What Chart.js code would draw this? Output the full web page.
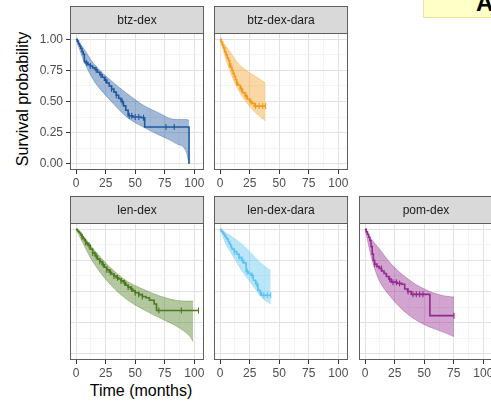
<!DOCTYPE html>
<html>
<head>
<meta charset="utf-8">
<script src="https://cdn.jsdelivr.net/npm/chart.js@4.4.0/dist/chart.umd.min.js"></script>
<style>
  body { margin: 0; width: 491px; height: 402px; overflow: hidden; background: #fff; position: relative;
         font-family: "Liberation Sans", Arial, sans-serif; }
  .panel { position: absolute; }
  #ytitle { position: absolute; left: -77px; top: 89px; width: 200px; height: 20px; line-height: 20px;
            text-align: center; font-size: 16px; color: #000; transform: rotate(-90deg); }
  #xtitle { position: absolute; left: 41px; top: 381px; width: 200px; height: 20px; line-height: 20px;
            text-align: center; font-size: 16px; color: #000; }
  #tag { position: absolute; left: 423px; top: -1px; width: 80px; height: 17px; background: #ffffc8;
         border: 1px solid #eee2a0; overflow: hidden; }
  #tag span { position: absolute; left: 52px; top: -11px; font-size: 24px; font-weight: bold; color: #000; }
</style>
</head>
<body>
<div id="tag"><span>A</span></div>
<div id="ytitle">Survival probability</div>
<div id="xtitle">Time (months)</div>

<script>
// tick positions (minor ones carry no label)
const xTicks = [0, 12.5, 25, 37.5, 50, 62.5, 75, 87.5, 100];
const yTicks = [0, 0.125, 0.25, 0.375, 0.5, 0.625, 0.75, 0.875, 1];

// btz-dex
const btzDexTime = [0, 1, 2, 3, 4, 5, 6, 7, 8, 10, 12, 14, 16, 18, 20, 22, 24, 26, 28, 30, 32, 34, 36, 38, 40, 42, 44, 48, 55, 58, 95.5];
const btzDexSurv = [1, 0.985, 0.965, 0.946, 0.925, 0.9, 0.878, 0.82, 0.81, 0.795, 0.785, 0.77, 0.755, 0.735, 0.715, 0.695, 0.672, 0.648, 0.625, 0.6, 0.575, 0.55, 0.525, 0.5, 0.465, 0.43, 0.385, 0.375, 0.37, 0.295, 0];
const btzDexCensor = [9, 12, 17, 21, 25, 30, 34, 39, 45, 47, 50, 53, 57, 76, 83];
const btzDexCiTime = [0, 6.1, 14.5, 28.7, 42.8, 56.8, 70.9, 79.4, 85, 93, 95.5];
const btzDexUpper = [1, 0.93, 0.81, 0.675, 0.566, 0.47, 0.404, 0.363, 0.355, 0.355, 0.35];
const btzDexLower = [1, 0.837, 0.675, 0.512, 0.376, 0.295, 0.228, 0.19, 0.16, 0.1, 0];

// btz-dex-dara
const btzDaraTime = [0, 1, 2, 3, 4, 5, 6, 7, 8, 9, 10, 11, 12, 13, 14, 15, 17, 19, 21, 23, 25, 27, 29, 38.5];
const btzDaraSurv = [1, 0.98, 0.95, 0.93, 0.9, 0.875, 0.85, 0.83, 0.8, 0.775, 0.75, 0.725, 0.7, 0.675, 0.65, 0.63, 0.6, 0.57, 0.545, 0.52, 0.5, 0.485, 0.463, 0.463];
const btzDaraCensor = [8, 14, 18, 22, 26, 30, 33, 36, 38.5];
const btzDaraCiTime = [0, 3, 7, 14, 21, 30, 38.5];
const btzDaraUpper = [1, 0.965, 0.92, 0.82, 0.756, 0.7, 0.648];
const btzDaraLower = [1, 0.9, 0.78, 0.62, 0.51, 0.41, 0.344];

// len-dex
const lenDexTime = [0, 1, 2, 3, 4, 5, 6, 7, 8, 9, 10, 12, 14, 16, 18, 20, 22, 24, 26, 28, 30, 32, 34, 36, 38, 40, 42, 44, 46, 48, 50, 53, 56, 59, 62, 66, 68, 103.5];
const lenDexSurv = [1, 0.99, 0.98, 0.97, 0.955, 0.94, 0.925, 0.91, 0.895, 0.884, 0.87, 0.84, 0.81, 0.785, 0.76, 0.74, 0.715, 0.695, 0.675, 0.655, 0.64, 0.625, 0.61, 0.6, 0.585, 0.57, 0.55, 0.535, 0.52, 0.505, 0.49, 0.475, 0.46, 0.45, 0.43, 0.4, 0.347, 0.347];
const lenDexCensor = [5, 8, 11, 14, 17, 20, 23, 26, 29, 32, 35, 38, 41, 44, 47, 50, 53, 56, 70, 89, 103.5];
const lenDexCiTime = [0, 7.5, 14.5, 28.7, 42.8, 56.8, 70.9, 85, 96.3, 99];
const lenDexUpper = [1, 0.93, 0.843, 0.694, 0.585, 0.518, 0.463, 0.428, 0.423, 0.423];
const lenDexLower = [1, 0.856, 0.734, 0.558, 0.437, 0.355, 0.287, 0.22, 0.138, 0.098];

// len-dex-dara
const lenDaraTime = [0, 1, 2, 3, 4, 5, 6, 7, 8, 9, 10, 12, 14, 16, 18, 20, 22, 24, 26, 28, 30, 32, 34, 35, 42.8];
const lenDaraSurv = [1, 0.985, 0.975, 0.96, 0.945, 0.93, 0.92, 0.9, 0.88, 0.86, 0.84, 0.82, 0.8, 0.775, 0.75, 0.73, 0.66, 0.645, 0.63, 0.59, 0.56, 0.51, 0.49, 0.47, 0.47];
const lenDaraCensor = [12, 16, 19, 23, 27, 31, 34, 37, 40, 42.8];
const lenDaraCiTime = [0, 5, 10, 18.5, 27, 35.4, 42.8];
const lenDaraUpper = [1, 0.97, 0.94, 0.88, 0.8, 0.72, 0.667];
const lenDaraLower = [1, 0.88, 0.8, 0.667, 0.558, 0.45, 0.4];

// pom-dex
const pomDexTime = [0, 1, 2, 3, 4, 5, 6, 7, 8, 10, 12, 14, 16, 18, 20, 22, 27, 31, 33.5, 36, 39, 54.8, 75.2];
const pomDexSurv = [1, 0.98, 0.96, 0.935, 0.91, 0.86, 0.8, 0.75, 0.72, 0.7, 0.685, 0.665, 0.645, 0.62, 0.6, 0.575, 0.565, 0.558, 0.52, 0.5, 0.477, 0.306, 0.306];
const pomDexCensor = [8, 13.7, 20.8, 23.6, 26.4, 29.2, 36.3, 40.5, 43.3, 46.1, 48.9, 75.2];
const pomDexCiTime = [0, 5.3, 10.9, 22.2, 36.3, 50.4, 64.4, 75.2];
const pomDexUpper = [1, 0.92, 0.856, 0.72, 0.6, 0.518, 0.47, 0.455];
const pomDexLower = [1, 0.775, 0.61, 0.45, 0.315, 0.233, 0.18, 0.138];

const panels = [
  { label: 'btz-dex', color: [31, 87, 160], alpha: 0.42, col: 0, row: 0, yLabels: true,
    time: btzDexTime, surv: btzDexSurv, censor: btzDexCensor, ciTime: btzDexCiTime, upper: btzDexUpper, lower: btzDexLower },
  { label: 'btz-dex-dara', color: [243, 154, 28], alpha: 0.4, col: 1, row: 0, yLabels: false,
    time: btzDaraTime, surv: btzDaraSurv, censor: btzDaraCensor, ciTime: btzDaraCiTime, upper: btzDaraUpper, lower: btzDaraLower },
  { label: 'len-dex', color: [75, 122, 28], alpha: 0.42, col: 0, row: 1, yLabels: false,
    time: lenDexTime, surv: lenDexSurv, censor: lenDexCensor, ciTime: lenDexCiTime, upper: lenDexUpper, lower: lenDexLower },
  { label: 'len-dex-dara', color: [92, 196, 240], alpha: 0.42, col: 1, row: 1, yLabels: false,
    time: lenDaraTime, surv: lenDaraSurv, censor: lenDaraCensor, ciTime: lenDaraCiTime, upper: lenDaraUpper, lower: lenDaraLower },
  { label: 'pom-dex', color: [147, 41, 143], alpha: 0.42, col: 2, row: 1, yLabels: false,
    time: pomDexTime, surv: pomDexSurv, censor: pomDexCensor, ciTime: pomDexCiTime, upper: pomDexUpper, lower: pomDexLower }
];

const FONT = '"Liberation Sans", Arial, sans-serif';
const colLeft = [70, 214, 359], rowTop = [6, 196];
const stripH = 27, plotH = 137, plotW = 134, xAxisH = 24, padR = 6;

const rgba = (c, a) => 'rgba(' + c.join(',') + ',' + a + ')';
const pts = (xs, ys) => xs.map((x, i) => ({ x: x, y: ys[i] }));
// KM value at time t (last step at or before t)
function stepAt(ts, ss, t) {
  let v = ss[0];
  for (let i = 0; i < ts.length; i++) if (ts[i] <= t) v = ss[i];
  return v;
}
const isMajorX = v => Math.abs(v % 25) < 1e-6;
const isMajorY = v => Math.abs(v * 4 - Math.round(v * 4)) < 1e-6;

// grey strip on top + dark frame around the panel
const facetPlugin = {
  id: 'facet',
  afterDraw(chart, args, opts) {
    const { ctx, chartArea: a } = chart;
    const x0 = Math.round(a.left) + 0.5, x1 = Math.round(a.right) - 0.5;
    const t = Math.round(a.top) + 0.5, b = Math.round(a.bottom) - 0.5;
    ctx.save();
    ctx.lineWidth = 1;
    ctx.strokeStyle = '#5e5e5e';
    ctx.fillStyle = '#d9d9d9';
    ctx.fillRect(x0, 0.5, x1 - x0, t - 0.5);
    ctx.strokeRect(x0, 0.5, x1 - x0, t - 0.5);
    ctx.strokeRect(x0, t, x1 - x0, b - t);
    ctx.fillStyle = '#1a1a1a';
    ctx.font = '12px ' + FONT;
    ctx.textAlign = 'center';
    ctx.textBaseline = 'middle';
    ctx.fillText(opts.text, (x0 + x1) / 2, t / 2 + 0.5);
    ctx.restore();
  }
};

panels.forEach(p => {
  const axisW = p.yLabels ? 70 : 8;
  const div = document.createElement('div');
  div.className = 'panel';
  div.style.left = (colLeft[p.col] - axisW) + 'px';
  div.style.top = rowTop[p.row] + 'px';
  const cv = document.createElement('canvas');
  cv.width = axisW + plotW + padR;
  cv.height = stripH + plotH + xAxisH;
  div.appendChild(cv);
  document.body.appendChild(div);

  new Chart(cv.getContext('2d'), {
    type: 'line',
    plugins: [facetPlugin],
    data: {
      datasets: [
        { data: pts(p.ciTime, p.upper), borderColor: rgba(p.color, 0.45), borderWidth: 0.8,
          backgroundColor: rgba(p.color, p.alpha), fill: '+1', pointRadius: 0, cubicInterpolationMode: 'monotone' },
        { data: pts(p.ciTime, p.lower), borderColor: rgba(p.color, 0.45), borderWidth: 0.8,
          fill: false, pointRadius: 0, cubicInterpolationMode: 'monotone' },
        { data: pts(p.time, p.surv), borderColor: rgba(p.color, 1), borderWidth: 1.6,
          stepped: true, fill: false, pointRadius: 0 },
        { data: p.censor.map(t => ({ x: t, y: stepAt(p.time, p.surv, t) })), showLine: false,
          pointStyle: 'line', pointRotation: 90, pointRadius: 3, pointBorderWidth: 1.1,
          pointBorderColor: rgba(p.color, 1), borderColor: rgba(p.color, 1) }
      ]
    },
    options: {
      responsive: false,
      animation: false,
      events: [],
      layout: { padding: { top: stripH, right: padR, left: 0, bottom: 0 } },
      plugins: { legend: { display: false }, tooltip: { enabled: false }, facet: { text: p.label } },
      scales: {
        x: {
          type: 'linear', min: -5.15, max: 108.15,
          afterBuildTicks: s => { s.ticks = xTicks.map(v => ({ value: v })); },
          afterFit: s => { s.height = xAxisH; },
          border: { display: false },
          grid: {
            color: c => isMajorX(c.tick.value) ? '#e2e2e2' : '#efefef',
            lineWidth: c => isMajorX(c.tick.value) ? 1 : 0.7,
            tickLength: 4,
            tickColor: c => isMajorX(c.tick.value) ? '#333' : 'rgba(0,0,0,0)'
          },
          ticks: { autoSkip: false, maxRotation: 0, padding: 2, color: '#4d4d4d',
                   font: { size: 12, family: FONT },
                   callback: v => isMajorX(v) ? String(v) : '' }
        },
        y: {
          type: 'linear', min: -0.05, max: 1.05,
          afterBuildTicks: s => { s.ticks = yTicks.map(v => ({ value: v })); },
          afterFit: s => { s.width = axisW; },
          border: { display: false },
          grid: {
            color: c => isMajorY(c.tick.value) ? '#e2e2e2' : '#efefef',
            lineWidth: c => isMajorY(c.tick.value) ? 1 : 0.7,
            drawTicks: p.yLabels,
            tickLength: 4,
            tickColor: c => isMajorY(c.tick.value) ? '#333' : 'rgba(0,0,0,0)'
          },
          ticks: { display: p.yLabels, autoSkip: false, padding: 3, color: '#4d4d4d',
                   font: { size: 12, family: FONT },
                   callback: v => isMajorY(v) ? v.toFixed(2) : '' }
        }
      }
    }
  });
});
</script>
</body>
</html>
